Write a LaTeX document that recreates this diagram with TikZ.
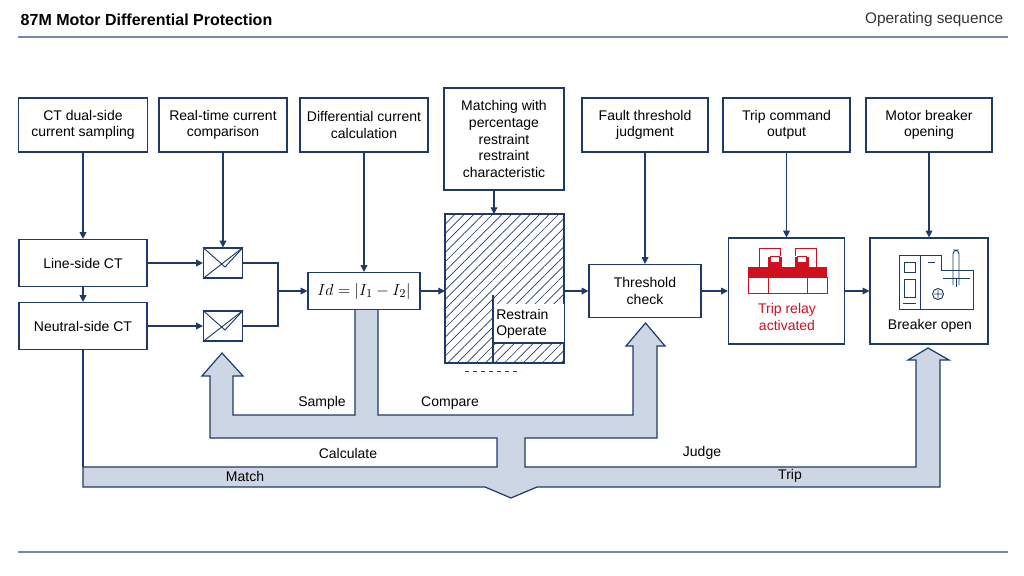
\documentclass[tikz,border=0pt]{standalone}
\usepackage{fontspec}
\setmainfont{Liberation Sans}
\usetikzlibrary{arrows.meta,patterns.meta,calc}
\definecolor{navy}{HTML}{1F3A68}
\definecolor{busfill}{HTML}{CDD6E4}
\definecolor{relred}{HTML}{D0101E}
\begin{document}
\begin{tikzpicture}[x=0.75pt,y=-0.75pt,
  box/.style={draw=navy,line width=0.9pt,fill=white,align=center,inner sep=0pt,font=\fontsize{10.5}{12.5}\selectfont},
  arr/.style={draw=navy,line width=0.9pt,-{Triangle[length=5pt,width=5pt]}},
  ln/.style={draw=navy,line width=0.9pt},
  lbl/.style={font=\fontsize{10.5}{12}\selectfont,text=black}]
\useasboundingbox (0,0) rectangle (1024,575);
% header
\node[anchor=west,font=\bfseries\fontsize{12}{14}\selectfont] (title) at (16,20) {87M Motor Differential Protection};
\node[anchor=east,font=\fontsize{11.5}{14}\selectfont,text=black!80] (seq) at (1008,20) {Operating sequence};
\draw[navy!60,line width=0.8pt] (18,37) -- (1008,37);
\draw[navy!60,line width=0.8pt] (18,552) -- (1008,552);
% bus arrows
\draw[ln,fill=busfill] (222,353) -- (243,376) -- (233,376) -- (233,415) -- (355,415) -- (355,309) -- (378,309) -- (378,415)
  -- (633,415) -- (633,346) -- (626,346) -- (645.5,323) -- (665,346) -- (657,346) -- (657,438) -- (525,438) -- (525,467)
  -- (916,467) -- (916,360) -- (908,360) -- (928,348) -- (949,360) -- (940,360) -- (940,487) -- (537,487) -- (511,498)
  -- (485,487) -- (83,487) -- (83,467) -- (497,467) -- (497,438) -- (210,438) -- (210,376) -- (202,376) -- cycle;
\node[lbl] (lsample) at (322,403) {Sample};
\node[lbl] (lcompare) at (450,403) {Compare};
\node[lbl] (lcalc) at (348,453) {Calculate};
\node[lbl] (ljudge) at (702,453) {Judge};
\node[lbl] (lmatch) at (245,476) {Match};
\node[lbl] (ltrip) at (790,476) {Trip};
% top boxes
\node[box,minimum width={129*0.75pt},minimum height={54*0.75pt}] (t1) at (83,125) {CT dual-side\\current sampling};
\node[box,minimum width={128*0.75pt},minimum height={54*0.75pt}] (t2) at (223,125) {Real-time current\\comparison};
\node[box,minimum width={128*0.75pt},minimum height={54*0.75pt}] (t3) at (364,125) {Differential current\\calculation};
\node[box,minimum width={120*0.75pt},minimum height={102*0.75pt}] (t4) at (504,139) {Matching with\\percentage\\restraint\\restraint\\characteristic};
\node[box,minimum width={126*0.75pt},minimum height={54*0.75pt}] (t5) at (645,125) {Fault threshold\\judgment};
\node[box,minimum width={127*0.75pt},minimum height={54*0.75pt}] (t6) at (786.5,125) {Trip command\\output};
\node[box,minimum width={126*0.75pt},minimum height={54*0.75pt}] (t7) at (929,125) {Motor breaker\\opening};
% CTs
\node[box,minimum width={128*0.75pt},minimum height={47*0.75pt}] (ln1) at (83,263) {Line-side CT};
\node[box,minimum width={128*0.75pt},minimum height={47*0.75pt}] (nt) at (83,326) {Neutral-side CT};
\draw[ln] (nt.south) -- (83,467);
\draw[arr] (t1.south) -- (ln1.north);
\draw[arr] (ln1.south) -- (nt.north);
% comparators
\node[box,minimum width={39*0.75pt},minimum height={30*0.75pt}] (c1) at (223,263) {};
\node[box,minimum width={39*0.75pt},minimum height={30*0.75pt}] (c2) at (223,326) {};
\foreach \c in {c1,c2}{
  \draw[ln,line width=0.7pt] (\c.north west) -- ($(\c.center)+(2,4)$) -- (\c.north east);
  \draw[ln,line width=0.7pt] (\c.south west) -- (\c.north east);
}
\draw[arr] (t2.south) -- (c1.north);
\draw[arr] (ln1.east) -- (c1.west);
\draw[arr] (nt.east) -- (c2.west);
\coordinate (mj) at (278,291);
\draw[ln] (c1.east) -| (mj) |- (c2.east);
% Id box
\node[box,minimum width={112*0.75pt},minimum height={37*0.75pt},font=\fontsize{12.5}{14}\selectfont] (id) at (364,291) {$Id=|I_1-I_2|$};
\draw[arr] (mj) -- (id.west);
\draw[arr] (t3.south) -- (id.north);
% hatched characteristic
\draw[navy,line width=0.9pt,pattern={Lines[angle=45,distance=5pt,line width=0.5pt]},pattern color=navy] (445,214) rectangle (564,363);
\fill[white] (493.5,304) rectangle (563.5,343);
\draw[ln] (493,295) -- (493,363) (493,343) -- (564,343);
\node[lbl,align=left,anchor=west,inner sep=0pt] (ro) at (496,324) {Restrain\\Operate};
\draw[navy,dashed,line width=0.6pt] (465,371) -- (521,371);
\coordinate (hin) at (445,291);
\coordinate (hout) at (564,291);
\draw[arr] (id.east) -- (hin);
\coordinate (t4b) at (494,190);
\draw[arr] (t4b) -- (494,214);
% threshold
\node[box,minimum width={112*0.75pt},minimum height={53*0.75pt}] (th) at (645,291) {Threshold\\check};
\draw[arr] (hout) -- (th.west);
\draw[arr] (t5.south) -- (th.north);
% trip relay
\node[box,minimum width={116*0.75pt},minimum height={106*0.75pt}] (tr) at (786.5,291) {};
\node[font=\fontsize{10.5}{12.5}\selectfont,text=relred,align=center] (trt) at (787,317) {Trip relay\\activated};
\fill[relred] (748,267) rectangle (827,277);
\draw[relred,line width=0.7pt] (748,277) rectangle (827,293) (768,277) -- (768,293) (807,277) -- (807,293);
\draw[relred,line width=0.7pt,fill=relred] (768,257) rectangle (781,267) (795,257) rectangle (808,267);
\draw[relred,line width=0.7pt,fill=white] (770,256) rectangle (779,262) (797,256) rectangle (806,262);
\draw[relred,line width=0.7pt] (759,267) -- (759,248) -- (780,248) -- (780,256) (795,256) -- (795,248) -- (816,248) -- (816,267);
\draw[arr] (t6.south) -- (tr.north);
\draw[arr] (th.east) -- (tr.west);
% breaker
\node[box,minimum width={118*0.75pt},minimum height={106*0.75pt}] (br) at (929,291) {};
\node[lbl] (brt) at (930,326) {Breaker open};
\draw[ln,line width=0.7pt] (899,255) rectangle (920,309);
\draw[ln,line width=0.7pt] (904,262) rectangle (915,272) (904,279) rectangle (915,297);
\draw[ln,line width=0.7pt] (903,303) -- (916,303);
\draw[ln,line width=0.7pt] (920,255) -- (941,255) -- (941,270) -- (973,270) -- (973,309) -- (920,309);
\draw[ln,line width=0.7pt] (928,262) -- (935,262);
\draw[ln,line width=0.7pt] (938,294) circle (5.5) (934,294) -- (942,294) (938,290) -- (938,298);
\draw[ln,line width=0.7pt,rounded corners=3] (953,285) -- (953,250) -- (959,250) -- (959,285);
\draw[ln,line width=0.7pt] (943,278) -- (970,278) (956,278) -- (956,287);
\draw[arr] (t7.south) -- (br.north);
\draw[arr] (tr.east) -- (br.west);
\end{tikzpicture}
\end{document}
